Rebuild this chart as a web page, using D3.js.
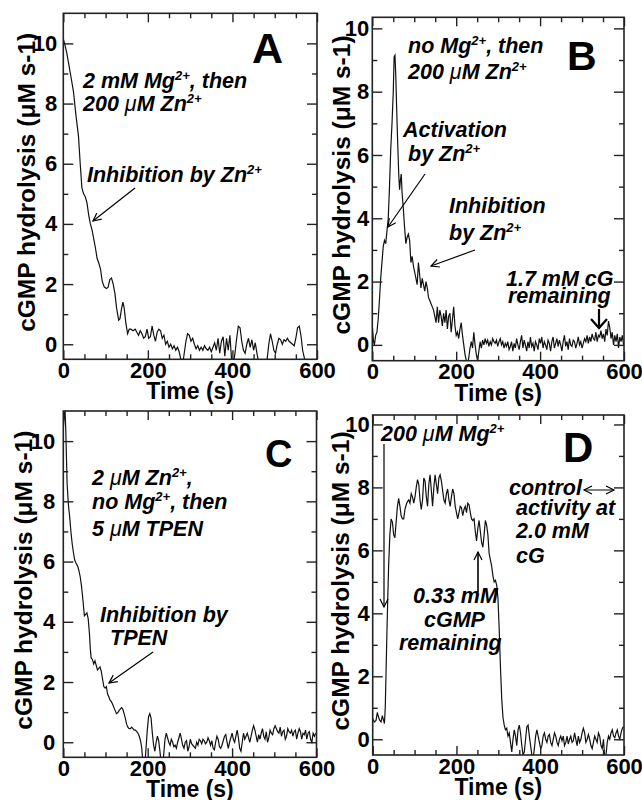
<!DOCTYPE html>
<html><head><meta charset="utf-8">
<script src="https://cdn.jsdelivr.net/npm/d3@7"></script>
<style>
body{margin:0;background:#fff}
svg text{font-family:"Liberation Sans",Arial,Helvetica,sans-serif}
</style></head><body>
<svg id="c" width="642" height="800"></svg>
<script>
// ---------- data ----------
const timeA=[0,3,8,13,18,24,30,36,40,44,48,52,56,60,64,68,72,76,80,84,88,92,97,102,106,110,114,118,122,126,131,134,138,141,144,148,152,156,160,165,170,174,178,182,186,190,194,198,202,206,210,214,218,222,226,230,234,238,242,246,250,254,258,262,266,270,274,278,282,286,290,294,298,302,306,310,314,318,322,326,330,334,338,342,346,350,354,358,362,366,370,374,378,382,386,390,394,398,402,406,410,414,418,422,426,430,434,438,442,446,450,454,458,462,466,470,474,478,482,486,490,494,498,502,506,510,514,518,522,526,530,534,538,542,546,550,554,558,562,566,570,574];
const rateA=[10.15,10.0,9.7,9.3,8.9,8.4,7.6,6.9,6.0,5.2,5.0,4.9,4.7,4.3,4.0,3.8,3.5,3.2,2.85,2.7,2.5,2.1,1.9,1.85,1.9,2.15,2.2,2.0,1.7,1.2,0.8,0.85,1.2,1.4,1.2,0.7,0.35,0.5,0.5,0.45,0.5,0.4,0.3,0.45,0.35,0.2,0.25,0.5,0.2,0.25,0.6,0.3,0.1,0.4,0.5,0.45,0.2,0.3,0.0,0.1,-0.1,0.0,-0.15,-0.05,-0.2,-0.1,-0.25,-0.5,-0.7,-0.3,0.1,0.35,0.3,0.1,0.2,0.0,-0.15,-0.05,-0.2,-0.1,-0.2,-0.05,-0.15,-0.2,-0.1,-0.25,-0.1,0.05,-0.2,0.2,-0.3,0.1,0.25,-0.4,0.2,-0.2,0.3,-0.5,-0.7,-0.3,0.2,0.6,0.55,0.1,-0.2,-0.3,0.0,0.2,-0.1,0.15,-0.2,0.05,-0.3,-0.6,-0.9,-0.8,-0.8,-0.7,-0.5,0.0,0.35,0.1,-0.2,-0.3,0.0,0.2,0.15,0.0,0.15,0.1,0.2,0.1,0.05,0.0,-0.05,0.2,0.55,0.6,0.3,-0.2,-0.45,-0.7];

const timeB=[0,3,5,8,11,14,17,20,23,26,29,32,35,38,41,44,47,50,52,54,56,58,60,63,65,67,69,71,74,77,80,83,86,89,92,95,98,101,104,107,110,113,116,119,122,125,128,131,134,137,140,143,146,149,152,155,158,161,164,167,170,173,176,179,182,185,188,191,194,197,200,203,206,209,212,215,218,221,224,227,230,233,236,239,242,245,248,251,254,257,260,263,266,269,272,275,278,281,284,287,290,293,296,299,302,305,308,311,314,317,320,323,326,329,332,335,338,341,344,347,350,353,356,359,362,365,368,371,374,377,380,383,386,389,392,395,398,401,404,407,410,413,416,419,422,425,428,431,434,437,440,443,446,449,452,455,458,461,464,467,470,473,476,479,482,485,488,491,494,497,500,503,506,509,512,515,518,521,524,527,530,533,536,539,542,545,548,551,554,557,560,563,566,569,572,575,578,581,584,587,590,593,596,599];
const rateB=[0.6,0.1,0.0,0.3,0.4,0.8,1.4,2.1,2.6,3.1,3.3,3.2,3.6,4.0,5.0,6.2,7.0,8.0,9.1,9.15,8.5,7.5,6.6,5.4,4.9,5.2,5.4,4.8,4.3,3.7,3.2,3.4,3.5,3.3,2.6,2.8,2.5,2.3,2.1,1.9,2.6,2.2,1.8,2.1,1.9,1.7,2.0,1.8,1.5,1.4,1.3,1.2,1.1,0.9,0.7,1.2,0.7,1.1,0.9,0.6,1.0,0.7,1.1,0.5,0.9,1.0,0.4,0.8,1.2,0.6,0.3,0.4,0.2,0.5,0.7,0.3,0.0,-0.3,-0.5,-0.6,-0.4,-0.1,0.1,-0.1,0.4,0.0,-0.3,-0.5,-0.2,0.1,-0.1,0.15,0.0,0.2,0.05,0.15,-0.05,0.1,0.0,0.2,0.1,0.05,0.15,-0.05,0.1,0.2,0.0,0.1,-0.1,0.05,-0.05,0.1,-0.15,-0.05,0.1,-0.2,0.05,-0.1,0.2,0.0,-0.15,0.1,0.3,-0.1,0.15,0.0,-0.2,0.1,-0.1,0.25,-0.05,0.05,-0.2,0.1,0.0,-0.15,0.2,0.05,0.25,-0.1,0.1,0.0,-0.15,0.15,0.05,-0.2,0.1,0.25,-0.1,0.05,0.2,-0.05,0.15,0.0,-0.2,0.1,0.3,-0.05,0.1,-0.15,0.2,0.0,-0.05,0.15,0.1,-0.1,0.05,0.25,0.0,0.1,-0.1,0.05,0.2,0.1,0.3,0.05,0.25,0.1,0.35,0.2,0.15,0.4,0.1,0.3,0.25,0.45,0.2,0.35,0.1,0.5,0.3,0.75,0.55,0.2,0.4,0.0,0.3,0.1,0.35,-0.1,0.25,0.1,0.3,0.0];

const timeC=[0,2,4,6,9,12,15,18,21,24,27,30,34,37,40,43,46,48,50,53,56,59,62,64,66,69,72,75,78,81,84,87,90,93,96,99,102,105,108,111,114,117,120,123,126,129,132,135,138,141,144,147,150,153,156,159,162,165,168,171,174,177,180,183,186,188,190,193,196,199,202,205,208,211,214,217,220,223,226,229,232,235,238,241,244,247,250,253,256,259,262,265,268,271,274,277,280,283,286,289,292,295,298,301,304,307,310,313,316,319,322,325,328,331,334,337,340,343,346,349,352,355,358,361,364,367,370,373,376,379,382,385,388,391,394,397,400,403,406,409,412,415,418,421,424,427,430,433,436,439,442,445,448,451,454,457,460,463,466,469,472,475,478,481,484,487,490,493,496,499,502,505,508,511,514,517,520,523,526,529,532,535,538,541,544,547,550,553,556,559,562,565,568,571,574,577,580,583,586,589,592,595,598];
const rateC=[10.4,10.8,11.1,10.3,8.6,7.9,7.5,7.0,6.6,6.3,6.05,5.95,5.85,5.7,5.5,5.2,4.8,4.5,4.2,4.25,4.3,4.1,3.6,3.1,2.8,2.75,2.6,2.7,2.55,2.4,2.45,2.5,2.35,2.1,1.85,1.8,1.85,1.6,1.5,1.4,1.35,1.25,1.15,1.05,0.95,0.98,1.05,1.1,1.15,1.1,0.95,0.8,0.6,0.5,0.45,0.45,0.5,0.45,0.4,0.4,0.35,0.3,0.2,0.05,-0.2,-0.6,-1.0,-0.8,-0.2,0.4,0.85,0.95,0.8,0.3,-0.1,-0.3,0.0,0.2,0.05,-0.3,-0.7,-0.9,-0.4,0.1,0.3,0.15,0.0,-0.1,0.1,0.0,-0.15,-0.1,-0.2,0.0,0.15,0.3,0.1,-0.1,-0.2,0.0,0.05,-0.3,-0.15,0.1,-0.05,-0.1,-0.15,-0.2,0.0,-0.1,0.1,0.05,-0.05,0.1,0.05,-0.05,0.0,0.15,0.05,-0.1,0.05,-0.2,-0.25,0.0,0.2,0.1,-0.15,-0.2,-0.1,0.05,0.2,0.25,0.0,-0.2,0.0,0.15,0.3,0.1,0.0,0.2,0.4,0.15,-0.2,-0.3,0.0,0.3,0.1,0.2,0.3,0.15,0.0,0.2,0.4,0.55,0.4,0.2,0.0,0.25,0.1,0.3,0.45,0.2,0.1,0.35,0.0,0.15,0.4,0.3,0.25,0.45,0.55,0.45,0.35,0.3,0.5,0.2,0.35,0.4,0.1,0.2,0.45,0.35,0.3,0.4,0.2,0.35,0.4,0.1,0.3,0.45,0.35,0.1,0.3,0.25,0.4,0.1,0.3,0.35,0.1,0.0,0.3,0.2,0.3];

const timeD=[0,4,8,11,14,17,20,23,26,28,30,32,34,36,38,41,44,47,50,53,56,59,62,65,68,71,74,77,80,83,86,89,92,95,98,101,104,107,110,113,116,119,122,125,128,131,134,137,140,143,146,149,152,155,158,161,164,167,170,173,176,179,182,185,188,191,194,197,200,203,206,209,212,215,218,221,224,227,230,233,236,239,242,245,248,251,254,257,260,263,266,269,272,275,278,281,284,287,290,293,296,299,302,305,308,311,314,317,320,323,326,329,332,335,338,341,344,347,350,353,356,359,362,365,368,371,374,377,380,383,386,389,392,395,398,401,404,407,410,413,416,419,422,425,428,431,434,437,440,443,446,449,452,455,458,461,464,467,470,473,476,479,482,485,488,491,494,497,500,503,506,509,512,515,518,521,524,527,530,533,536,539,542,545,548,551,554,557,560,563,566,569,572,575,578,581,584,587,590,593,596,599];
const rateD=[0.65,0.55,0.6,0.85,0.7,0.6,0.55,0.75,0.6,0.5,1.0,2.2,3.4,4.5,5.5,6.5,7.0,6.9,6.5,6.4,6.9,7.4,7.65,7.4,7.1,7.0,7.0,7.3,7.45,7.55,7.6,7.5,7.8,7.7,7.5,7.7,8.0,8.25,8.1,7.6,7.3,7.6,8.3,8.2,7.7,7.4,8.1,8.4,7.9,7.4,8.0,8.4,8.1,7.8,8.3,8.4,8.2,7.9,7.6,7.5,7.8,7.95,7.6,7.4,7.7,7.95,7.8,7.4,7.2,7.0,7.2,7.4,7.35,7.1,7.3,7.4,7.2,7.5,7.45,7.2,7.0,6.95,7.0,6.6,6.3,6.7,6.95,6.6,6.25,6.1,6.5,6.95,6.8,6.5,5.9,5.7,5.5,5.2,5.0,5.05,4.9,4.5,3.5,2.3,1.3,0.7,0.45,0.3,0.35,0.1,0.2,-0.1,-0.4,0.0,0.3,0.1,-0.2,0.3,0.45,0.2,-0.2,-0.5,-0.4,0.0,0.4,0.45,0.1,-0.2,-0.5,-0.6,-0.3,0.1,0.3,0.1,-0.1,-0.3,-0.2,0.1,0.2,0.0,-0.1,0.1,0.15,-0.1,-0.2,0.0,0.2,0.1,-0.1,-0.2,0.0,0.1,-0.05,0.1,-0.2,-0.1,0.1,-0.15,0.0,0.1,-0.1,-0.05,0.2,0.0,-0.2,0.1,-0.1,0.0,0.2,0.35,0.2,-0.1,0.0,0.15,0.0,-0.2,-0.3,-0.1,0.1,0.0,-0.1,0.2,0.1,-0.2,-0.3,0.0,-0.6,-0.5,-0.1,0.1,0.0,0.2,0.3,0.1,0.05,0.2,0.3,0.1,0.0,0.2,0.35,0.4];

const xMajor=[0,200,400,600];
const xMinor=[50,100,150,250,300,350,450,500,550];
const yMajor=[0,2,4,6,8,10];
const yMinor=[1,3,5,7,9];
const yTitle="cGMP hydrolysis (μM s-1)";
const xTitle="Time (s)";

// ---------- layout ----------
const svg=d3.select("#c");
const defs=svg.append("defs");
defs.append("marker").attr("id","ah").attr("viewBox","-10 -6 12 12").attr("refX",0).attr("refY",0)
  .attr("markerWidth",12).attr("markerHeight",12).attr("markerUnits","userSpaceOnUse").attr("orient","auto-start-reverse")
  .append("path").attr("d","M-8,-4 L0,0 L-8,4").attr("fill","none").attr("stroke","#000").attr("stroke-width",1.2);
defs.append("marker").attr("id","ahBig").attr("viewBox","-12 -10 14 20").attr("refX",0).attr("refY",0)
  .attr("markerWidth",14).attr("markerHeight",20).attr("markerUnits","userSpaceOnUse").attr("orient","auto")
  .append("path").attr("d","M-9,-8 L0,0 L-9,8").attr("fill","none").attr("stroke","#000").attr("stroke-width",2.2);

const panels=[
 {key:"A",t:timeA,v:rateA,x0:63.3,x1:317,y0:13.3,y1:359.3,ymin:-0.5,ymax:11,ypad:6,ytx:35,letter:{x:252,y:63,s:43}},
 {key:"B",t:timeB,v:rateB,x0:372.3,x1:624,y0:17.3,y1:360.7,ymin:-0.5,ymax:10.35,ypad:3,ytx:350,letter:{x:567,y:70,s:41}},
 {key:"C",t:timeC,v:rateC,x0:63.3,x1:316.5,y0:411,y1:757.3,ymin:-0.5,ymax:11,ypad:8,ytx:32,letter:{x:265,y:467,s:38}},
 {key:"D",t:timeD,v:rateD,x0:372.7,x1:624,y0:415,y1:755,ymin:-0.5,ymax:10.3,ypad:3,ytx:349,letter:{x:563,y:462,s:42}}
];

panels.forEach(p=>{
  const w=p.x1-p.x0,h=p.y1-p.y0;
  const x=d3.scaleLinear().domain([0,600]).range([0,w]);
  const y=d3.scaleLinear().domain([p.ymin,p.ymax]).range([h,0]);
  const g=svg.append("g").attr("transform",`translate(${p.x0},${p.y0})`);
  const cid="clip"+p.key;
  defs.append("clipPath").attr("id",cid).append("rect").attr("width",w).attr("height",h);
  // trace
  const pts=p.t.map((t,i)=>[t,p.v[i]]);
  g.append("path").datum(pts).attr("clip-path",`url(#${cid})`)
   .attr("d",d3.line().x(d=>x(d[0])).y(d=>y(d[1])))
   .attr("fill","none").attr("stroke","#111").attr("stroke-width",1.2);
  const styleAxis=sel=>{sel.select(".domain").remove();sel.selectAll("line").attr("stroke","#222").attr("stroke-width",1.4);
    sel.selectAll("text").attr("font-size",22).attr("font-weight","bold").attr("fill","#000")
       .attr("font-family",'"Liberation Sans",Arial,sans-serif');};
  // left
  g.append("g").call(d3.axisLeft(y).tickValues(yMajor).tickSizeInner(-10).tickSizeOuter(0).tickPadding(p.ypad).tickFormat(d3.format("d"))).call(styleAxis);
  g.append("g").call(d3.axisLeft(y).tickValues(yMinor).tickSizeInner(-5).tickSizeOuter(0).tickFormat("")).call(styleAxis);
  // right
  g.append("g").attr("transform",`translate(${w},0)`).call(d3.axisRight(y).tickValues(yMajor).tickSizeInner(-10).tickSizeOuter(0).tickFormat("")).call(styleAxis);
  g.append("g").attr("transform",`translate(${w},0)`).call(d3.axisRight(y).tickValues(yMinor).tickSizeInner(-5).tickSizeOuter(0).tickFormat("")).call(styleAxis);
  // bottom
  g.append("g").attr("transform",`translate(0,${h})`).call(d3.axisBottom(x).tickValues(xMajor).tickSizeInner(-9).tickSizeOuter(0).tickPadding(3).tickFormat(d3.format("d"))).call(styleAxis);
  g.append("g").attr("transform",`translate(0,${h})`).call(d3.axisBottom(x).tickValues(xMinor).tickSizeInner(-5).tickSizeOuter(0).tickFormat("")).call(styleAxis);
  // top
  g.append("g").call(d3.axisTop(x).tickValues(xMajor).tickSizeInner(-9).tickSizeOuter(0).tickFormat("")).call(styleAxis);
  g.append("g").call(d3.axisTop(x).tickValues(xMinor).tickSizeInner(-5).tickSizeOuter(0).tickFormat("")).call(styleAxis);
  // frame
  g.append("rect").attr("width",w).attr("height",h).attr("fill","none").attr("stroke","#222").attr("stroke-width",1.6);
  // titles
  svg.append("text").attr("x",p.x0+w/2).attr("y",p.y1+40).attr("text-anchor","middle")
    .attr("font-size",23).attr("font-weight","bold").text(xTitle);
  svg.append("text").attr("transform",`translate(${p.ytx},${p.y0+h/2-4}) rotate(-90)`).attr("text-anchor","middle")
    .attr("font-size",24.5).attr("font-weight","bold").text(yTitle);
  // letter
  svg.append("text").attr("x",p.letter.x).attr("y",p.letter.y).attr("font-size",p.letter.s).attr("font-weight","bold").text(p.key);
});

// ---------- annotations ----------
function rich(x,y,str,anchor){
  const t=svg.append("text").attr("x",x).attr("y",y).attr("font-size",21.5).attr("font-weight","bold")
    .attr("font-style","italic").attr("text-anchor",anchor||"start");
  const parts=str.split(/(\^\{[^}]*\}|μ)/).filter(s=>s.length);
  let raised=false;
  parts.forEach(s=>{
    if(s.startsWith("^{")){
      t.append("tspan").attr("dy",-8).attr("font-size",13).text(s.slice(2,-1));raised=true;
    }else if(s==="μ"){
      const ts=t.append("tspan").attr("font-weight","normal").text("μ");
      if(raised){ts.attr("dy",8);raised=false;}
    }else{
      const ts=t.append("tspan").text(s);
      if(raised){ts.attr("dy",8);raised=false;}
    }
  });
}
function arrow(x1,y1,x2,y2,big,sw){
  svg.append("line").attr("x1",x1).attr("y1",y1).attr("x2",x2).attr("y2",y2)
    .attr("stroke","#000").attr("stroke-width",sw||1.2).attr("marker-end",`url(#${big?"ahBig":"ah"})`);
}
// A
rich(83,88,"2 mM Mg^{2+}, then");
rich(83,111,"200 μM Zn^{2+}");
rich(87,182,"Inhibition by Zn^{2+}");
arrow(135,188,93,221);
// B
rich(408,53,"no Mg^{2+}, then");
rich(408,79,"200 μM Zn^{2+}");
rich(403,137,"Activation");
rich(408,161,"by Zn^{2+}");
arrow(425,174,388,227);
rich(449,213,"Inhibition");
rich(449,240,"by Zn^{2+}");
arrow(475,250,431,266);
rich(506,286,"1.7 mM cG");
rich(508,303,"remaining");
arrow(599,309,599,328,true,2.2);
// C
rich(92,485,"2 μM Zn^{2+},");
rich(92,509,"no Mg^{2+}, then");
rich(92,536,"5 μM TPEN");
rich(100,622,"Inhibition by");
rich(110,645,"TPEN");
arrow(153,652,109,683);
// D
rich(381,441,"200 μM Mg^{2+}");
arrow(384,444,384,607);
rich(509,495,"control");
svg.append("line").attr("x1",584).attr("y1",490).attr("x2",614).attr("y2",490).attr("stroke","#000").attr("stroke-width",1)
  .attr("marker-start","url(#ah)").attr("marker-end","url(#ah)");
rich(516,515,"activity at");
rich(516,538,"2.0 mM");
rich(516,563,"cG");
rich(413,603,"0.33 mM");
rich(424,627,"cGMP");
rich(399,650,"remaining");
arrow(478,592,478,552,false,1.6);
</script></body></html>
